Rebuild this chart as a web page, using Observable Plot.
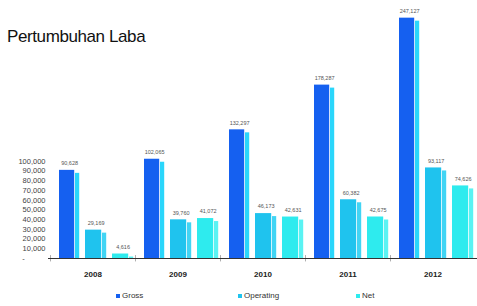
<!DOCTYPE html>
<html>
<head>
<meta charset="utf-8">
<script src="https://cdn.jsdelivr.net/npm/d3@7"></script>
<script src="https://cdn.jsdelivr.net/npm/@observablehq/plot@0.6"></script>
<style>
  html, body { margin: 0; padding: 0; background: #fff; }
  #wrap { position: relative; width: 477px; height: 306px; overflow: hidden; font-family: "Liberation Sans", Arial, sans-serif; }
  #title { position: absolute; left: 7px; top: 27px; font-size: 17px; color: #111; letter-spacing: -0.4px; }
  #chart { position: absolute; left: 0; top: 0; }
  #legend { position: absolute; top: 291px; left: 0; width: 477px; height: 12px; font-size: 8px; color: #333; }
  .item { position: absolute; display: flex; align-items: center; gap: 2px; }
  .sw { width: 4px; height: 4px; display: inline-block; }
</style>
</head>
<body>
<div id="wrap">
  <div id="chart"></div>
  <div id="title">Pertumbuhan Laba</div>
  <div id="legend"></div>
</div>
<script>
const years = ["2008", "2009", "2010", "2011", "2012"];
const gross = [90628, 102065, 132297, 178287, 247127];
const operating = [29169, 39760, 46173, 60382, 93117];
const net = [4616, 41072, 42631, 42675, 74626];
const series = ["Gross", "Operating", "Net"];
const yTicks = [0, 10000, 20000, 30000, 40000, 50000, 60000, 70000, 80000, 90000, 100000];

const frontColors = {Gross: "#1560f0", Operating: "#1fc3ee", Net: "#2eebee"};
const sideColors = {Gross: "#2ad6fb", Operating: "#41d4f4", Net: "#5af3f3"};

const rows = (vals) => years.map((y, i) => ({year: y, value: vals[i]}));
const data = {Gross: rows(gross), Operating: rows(operating), Net: rows(net)};

// pixel placement within each ~86px year band
const place = {Gross: [9, 30], Operating: [35, 57], Net: [62, 84]};
const W = 477, left = 48, right = 0;
const bw = (W - left - right) / years.length;

const marks = [];
for (const s of series) {
  const [a, b] = place[s];
  marks.push(Plot.barY(data[s], {x: "year", y: "value", fill: frontColors[s], insetLeft: a, insetRight: bw - b + 5}));
  marks.push(Plot.barY(data[s], {x: "year", y: "value", fill: sideColors[s], insetLeft: b - 5, insetRight: bw - b, insetTop: 3}));
  marks.push(Plot.text(data[s], {x: "year", y: "value", text: d => d3.format(",")(d.value), dx: (a + b) / 2 - bw / 2, dy: -7, fontSize: 5.5, fill: "#555"}));
}

const chart = Plot.plot({
  width: W,
  height: 286,
  marginLeft: left,
  marginRight: right,
  marginTop: 10,
  marginBottom: 28,
  style: {fontFamily: "Liberation Sans, Arial, sans-serif", background: "transparent"},
  x: {domain: years, padding: 0, label: null},
  y: {domain: [0, 255000], label: null},
  marks: [
    Plot.axisY({ticks: yTicks, tickSize: 0, tickPadding: 3, fontSize: 7.5, fill: "#444",
      tickFormat: d => d === 0 ? "-\u2007\u2007\u2007\u2007\u2007" : d3.format(",")(d)}),
    Plot.axisX({tickSize: 0, tickPadding: 13, fontSize: 8, fontWeight: "bold", fill: "#222"}),
    ...marks,
    Plot.ruleY([0], {stroke: "#333", strokeWidth: 1.2}),
    Plot.barY(years, {x: d => d, y1: -3500, y2: 3000, fill: "#333", insetLeft: 0, insetRight: bw - 1.2})
  ]
});
document.getElementById("chart").appendChild(chart);

const legendPos = {Gross: 116, Operating: 238, Net: 356};
const legend = document.getElementById("legend");
for (const s of series) {
  const it = document.createElement("div");
  it.className = "item";
  it.style.left = legendPos[s] + "px";
  it.innerHTML = `<span class="sw" style="background:${frontColors[s]}"></span><span>${s}</span>`;
  legend.appendChild(it);
}
</script>
</body>
</html>
